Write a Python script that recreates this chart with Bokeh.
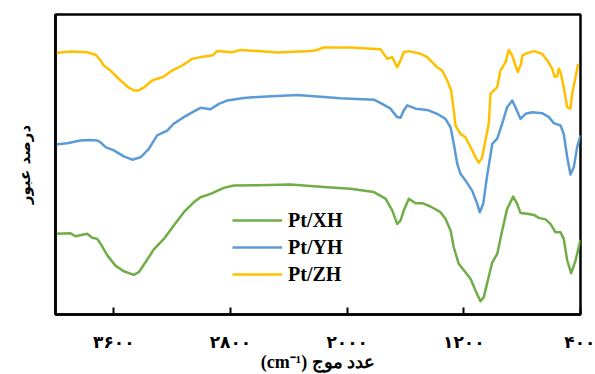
from bokeh.plotting import figure
from bokeh.models import Range1d, FixedTicker, Legend, LegendItem
from bokeh.embed import file_html
from bokeh.resources import INLINE

# Pt/XH (green)
xh_wn = [4000, 3897, 3863, 3783, 3748, 3714, 3691, 3645, 3589, 3532, 3463, 3429, 3383, 3326,
         3257, 3189, 3120, 3052, 3006, 2937, 2846, 2777, 2617, 2389, 2137, 1977, 1817, 1737,
         1691, 1657, 1634, 1612, 1577, 1531, 1486, 1429, 1360, 1326, 1291, 1269, 1235, 1189,
         1154, 1120, 1086, 1063, 1036, 1005, 971, 937, 903, 862, 834, 811, 766, 720, 686, 640,
         606, 571, 537, 515, 491, 464, 434, 400]
xh_t = [26.9, 27.1, 26.1, 26.9, 25.6, 25.2, 23.6, 19.7, 16.3, 14.4, 13.2, 14.1, 17.4, 21.7,
        25.2, 29.7, 34.1, 37.4, 39.1, 40.2, 42.2, 43.0, 43.1, 43.3, 42.4, 41.9, 40.8, 38.6,
        34.7, 30.2, 31.3, 34.7, 38.6, 37.1, 37.1, 36.0, 34.1, 31.9, 28.0, 22.4, 16.9, 14.1,
        11.9, 8.0, 4.4, 5.8, 11.3, 17.4, 20.2, 28.0, 35.2, 39.3, 36.9, 33.8, 33.6, 33.2, 32.2, 31.7,
        30.2, 27.4, 27.4, 25.2, 18.0, 13.8, 18.0, 24.9]

# Pt/YH (blue)
yh_wn = [4000, 3920, 3829, 3760, 3714, 3691, 3657, 3600, 3532, 3474, 3417, 3360, 3303, 3234,
         3189, 3120, 3063, 3006, 2937, 2880, 2823, 2709, 2548, 2343, 2205, 2046, 1817, 1760,
         1703, 1657, 1634, 1612, 1588, 1531, 1451, 1383, 1326, 1291, 1269, 1245, 1223, 1189,
         1143, 1108, 1091, 1067, 1045, 1005, 971, 937, 903, 868, 846, 811, 777, 731, 663, 617,
         583, 537, 515, 491, 469, 446, 423, 400]
yh_t = [56.7, 57.1, 58.0, 58.2, 58.0, 57.4, 55.8, 54.7, 52.7, 51.6, 52.4, 55.2, 59.7, 61.3,
        63.6, 65.8, 67.4, 68.9, 68.4, 70.2, 71.3, 72.2, 72.7, 73.2, 72.7, 72.1, 71.6, 70.2,
        68.6, 65.8, 65.6, 68.0, 69.7, 68.6, 68.2, 66.9, 65.2, 62.4, 56.9, 50.2, 46.9, 44.7,
        41.3, 36.9, 34.1, 36.9, 44.7, 56.9, 58.6, 63.6, 69.1, 71.3, 69.1, 65.2, 66.9, 67.4, 67.1, 65.8,
        63.8, 63.0, 60.2, 52.4, 46.7, 49.1, 55.8, 59.7]

# Pt/ZH (yellow)
zh_wn = [4000, 3897, 3783, 3726, 3691, 3669, 3623, 3554, 3497, 3463, 3429, 3395, 3337, 3303,
         3257, 3200, 3131, 3063, 3006, 2925, 2891, 2788, 2731, 2608, 2480, 2251, 2205, 2162,
         1977, 1771, 1725, 1691, 1657, 1634, 1612, 1577, 1497, 1451, 1383, 1348, 1314, 1287,
         1269, 1257, 1223, 1189, 1154, 1120, 1097, 1074, 1052, 1029, 1017, 971, 949, 914, 892,
         868, 846, 830, 807, 800, 766, 720, 663, 628, 594, 578, 560, 549, 537, 515, 491, 469,
         457, 434, 416]
zh_t = [87.2, 87.7, 87.4, 86.6, 84.7, 83.0, 81.3, 78.0, 75.6, 74.7, 74.7, 75.6, 78.0, 78.6,
        79.3, 81.3, 83.0, 85.2, 85.8, 86.3, 87.8, 87.4, 88.2, 87.8, 87.3, 87.8, 88.2, 89.0,
        89.0, 88.4, 85.2, 85.8, 82.4, 84.7, 87.4, 87.8, 86.9, 85.8, 82.4, 81.3, 78.0, 74.7,
        68.0, 63.0, 60.2, 59.1, 55.8, 52.4, 50.6, 52.4, 58.0, 63.6, 73.6, 75.8, 81.3, 84.1, 88.2,
        86.3, 83.0, 80.8, 83.6, 86.3, 87.1, 87.8, 86.9, 84.7, 81.9, 79.3, 79.3, 81.9, 80.8, 75.8,
        69.1, 68.6, 73.6, 79.1, 83.6]

tick_values = [3600, 2800, 2000, 1200, 400]
tick_labels = ["۳۶۰۰", "۲۸۰۰", "۲۰۰۰", "۱۲۰۰", "۴۰۰"]
series_names = ["Pt/XH", "Pt/YH", "Pt/ZH"]
colors = ["#70AD47", "#5B9BD5", "#FFC000"]

p = figure(width=595, height=374, output_backend="svg", toolbar_location=None,
           x_range=Range1d(4000, 400), y_range=Range1d(0, 100),
           min_border_left=55, min_border_right=15, min_border_top=14, min_border_bottom=60)
p.xgrid.visible = False
p.ygrid.visible = False
p.background_fill_color = "white"
p.border_fill_color = "white"
p.outline_line_color = "black"
p.outline_line_width = 2.5

renderers = []
for wn, t, c in zip([xh_wn, yh_wn, zh_wn], [xh_t, yh_t, zh_t], colors):
    r = p.line(wn, t, line_color=c, line_width=2.5, line_join="round")
    renderers.append(r)

xa = p.xaxis[0]
xa.ticker = FixedTicker(ticks=tick_values)
xa.major_label_overrides = {v: s for v, s in zip(tick_values, tick_labels)}
xa.minor_tick_line_color = None
xa.major_tick_in = 7
xa.major_tick_out = 0
xa.major_tick_line_width = 2
xa.major_tick_line_color = "black"
xa.axis_line_width = 2.5
xa.axis_line_color = "black"
xa.major_label_standoff = 17
xa.major_label_text_font = "DejaVu Sans"
xa.major_label_text_font_style = "bold"
xa.major_label_text_font_size = "17px"
xa.major_label_text_color = "black"
xa.axis_label = "(cm⁻¹) عدد موج"
xa.axis_label_text_font = "Liberation Serif"
xa.axis_label_text_font_style = "bold"
xa.axis_label_text_font_size = "18px"
xa.axis_label_text_color = "black"
xa.axis_label_standoff = -3

ya = p.yaxis[0]
ya.ticker = FixedTicker(ticks=[])
ya.major_tick_line_color = None
ya.minor_tick_line_color = None
ya.axis_line_width = 2.5
ya.axis_line_color = "black"
ya.axis_label = "درصد عبور"
ya.axis_label_text_font = "DejaVu Sans"
ya.axis_label_text_font_style = "bold"
ya.axis_label_text_font_size = "15px"
ya.axis_label_text_color = "black"
ya.axis_label_standoff = 22

legend = Legend(items=[LegendItem(label=n, renderers=[r]) for n, r in zip(series_names, renderers)],
                location=(177, 27), padding=0, margin=0, spacing=1,
                glyph_width=50, glyph_height=26, label_height=26, label_standoff=6,
                label_text_font="Liberation Serif", label_text_font_style="bold",
                label_text_font_size="20px", label_text_color="black",
                background_fill_alpha=0, border_line_alpha=0)
p.add_layout(legend, "center")

open("out.html", "w").write(file_html(p, INLINE))
